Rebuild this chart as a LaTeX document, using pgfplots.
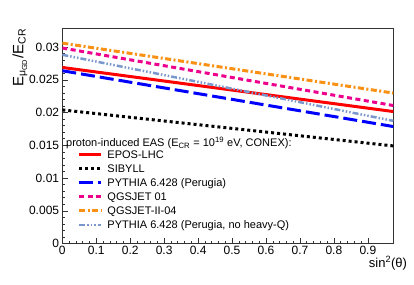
\documentclass[border=0pt]{standalone}
\usepackage{fontspec}
\setmainfont{Liberation Sans}
\usepackage{pgfplots}
\pgfplotsset{compat=1.18}
\definecolor{qorange}{RGB}{250,145,20}
\definecolor{steel}{RGB}{122,152,206}
\begin{document}
\begin{tikzpicture}
\begin{axis}[at={(0,0)}, anchor=south west, scale only axis, width=331pt, height=214.8pt,
 xmin=0, xmax=0.975, ymin=0, ymax=0.0328,
 xtick={0,0.1,0.2,0.3,0.4,0.5,0.6,0.7,0.8,0.9},
 ytick={0,0.005,0.01,0.015,0.02,0.025,0.03},
 scaled y ticks=false, scaled x ticks=false,
 minor x tick num=4, minor y tick num=4,
 tick pos=left, tick align=inside,
 major tick length=6pt, minor tick length=3pt,
 axis line style={black!80, line width=0.6pt},
 every tick/.style={black!80, line width=0.5pt},
 /pgf/number format/assume math mode=true,
 /pgf/number format/fixed,
 /pgf/number format/precision=3,
 ticklabel style={font=\fontsize{12}{14}\selectfont, inner sep=0pt},
 yticklabel style={xshift=-3pt},
 xticklabel style={yshift=-2.5pt},
 xlabel={sin\textsuperscript{2}(θ)},
 ylabel={E\textsubscript{μ\textsubscript{GD}}/E\textsubscript{CR}},
 label style={inner sep=0pt},
 xlabel style={font=\fontsize{13}{15}\selectfont, at={(axis description cs:1.042,0)}, anchor=east, yshift=-19.5pt},
 ylabel style={font=\fontsize{15}{17}\selectfont, at={(axis description cs:-0.128,1)}, anchor=east},
 legend style={at={(0.0474,0.435)}, anchor=north west, draw=none, fill=none,
   font=\fontsize{11}{13}\selectfont, inner sep=0pt, outer sep=0pt, row sep=3.56pt,
   nodes={inner sep=0pt, anchor=base west, text height=8pt, text depth=2.5pt}},
 legend cell align=left,
 legend image code/.code={\draw[#1,line cap=butt] (0pt,3.5pt) -- (22pt,3.5pt);},
 /tikz/every odd column/.append style={column sep=4.5pt},
]
\addplot[red, line width=3pt] coordinates {(0,0.02688) (0.975,0.02015)};
\addlegendentry{EPOS-LHC}
\addplot[black, line width=3pt, dash pattern=on 3pt off 3pt] coordinates {(0,0.0204) (0.975,0.0149)};
\addlegendentry{SIBYLL}
\addplot[blue, line width=3pt, dash pattern=on 14pt off 5pt] coordinates {(0,0.02638) (0.975,0.01786)};
\addlegendentry{PYTHIA 6.428 (Perugia)}
\addplot[magenta, line width=3pt, dash pattern=on 5pt off 3.5pt] coordinates {(0,0.02985) (0.975,0.02107)};
\addlegendentry{QGSJET 01}
\addplot[qorange, line width=3pt, dash pattern=on 6pt off 2.5pt on 2pt off 2.5pt] coordinates {(0,0.0306) (0.975,0.02297)};
\addlegendentry{QGSJET-II-04}
\addplot[steel, line width=2.5pt, dash pattern=on 6pt off 2pt on 1.5pt off 2pt on 1.5pt off 2pt on 1.5pt off 2pt] coordinates {(0,0.02882) (0.975,0.01873)};
\addlegendentry{PYTHIA 6.428 (Perugia, no heavy-Q)}
\node[anchor=west, font=\fontsize{11}{13}\selectfont, inner sep=0pt] at (rel axis cs:0.011,0.468) {proton-induced EAS (E\textsubscript{CR} = 10\textsuperscript{19} eV, CONEX):};
\end{axis}
\pgfresetboundingbox
\path[use as bounding box] (-62.3pt,-40.5pt) rectangle (351.7pt,243.5pt);
\end{tikzpicture}
\end{document}
